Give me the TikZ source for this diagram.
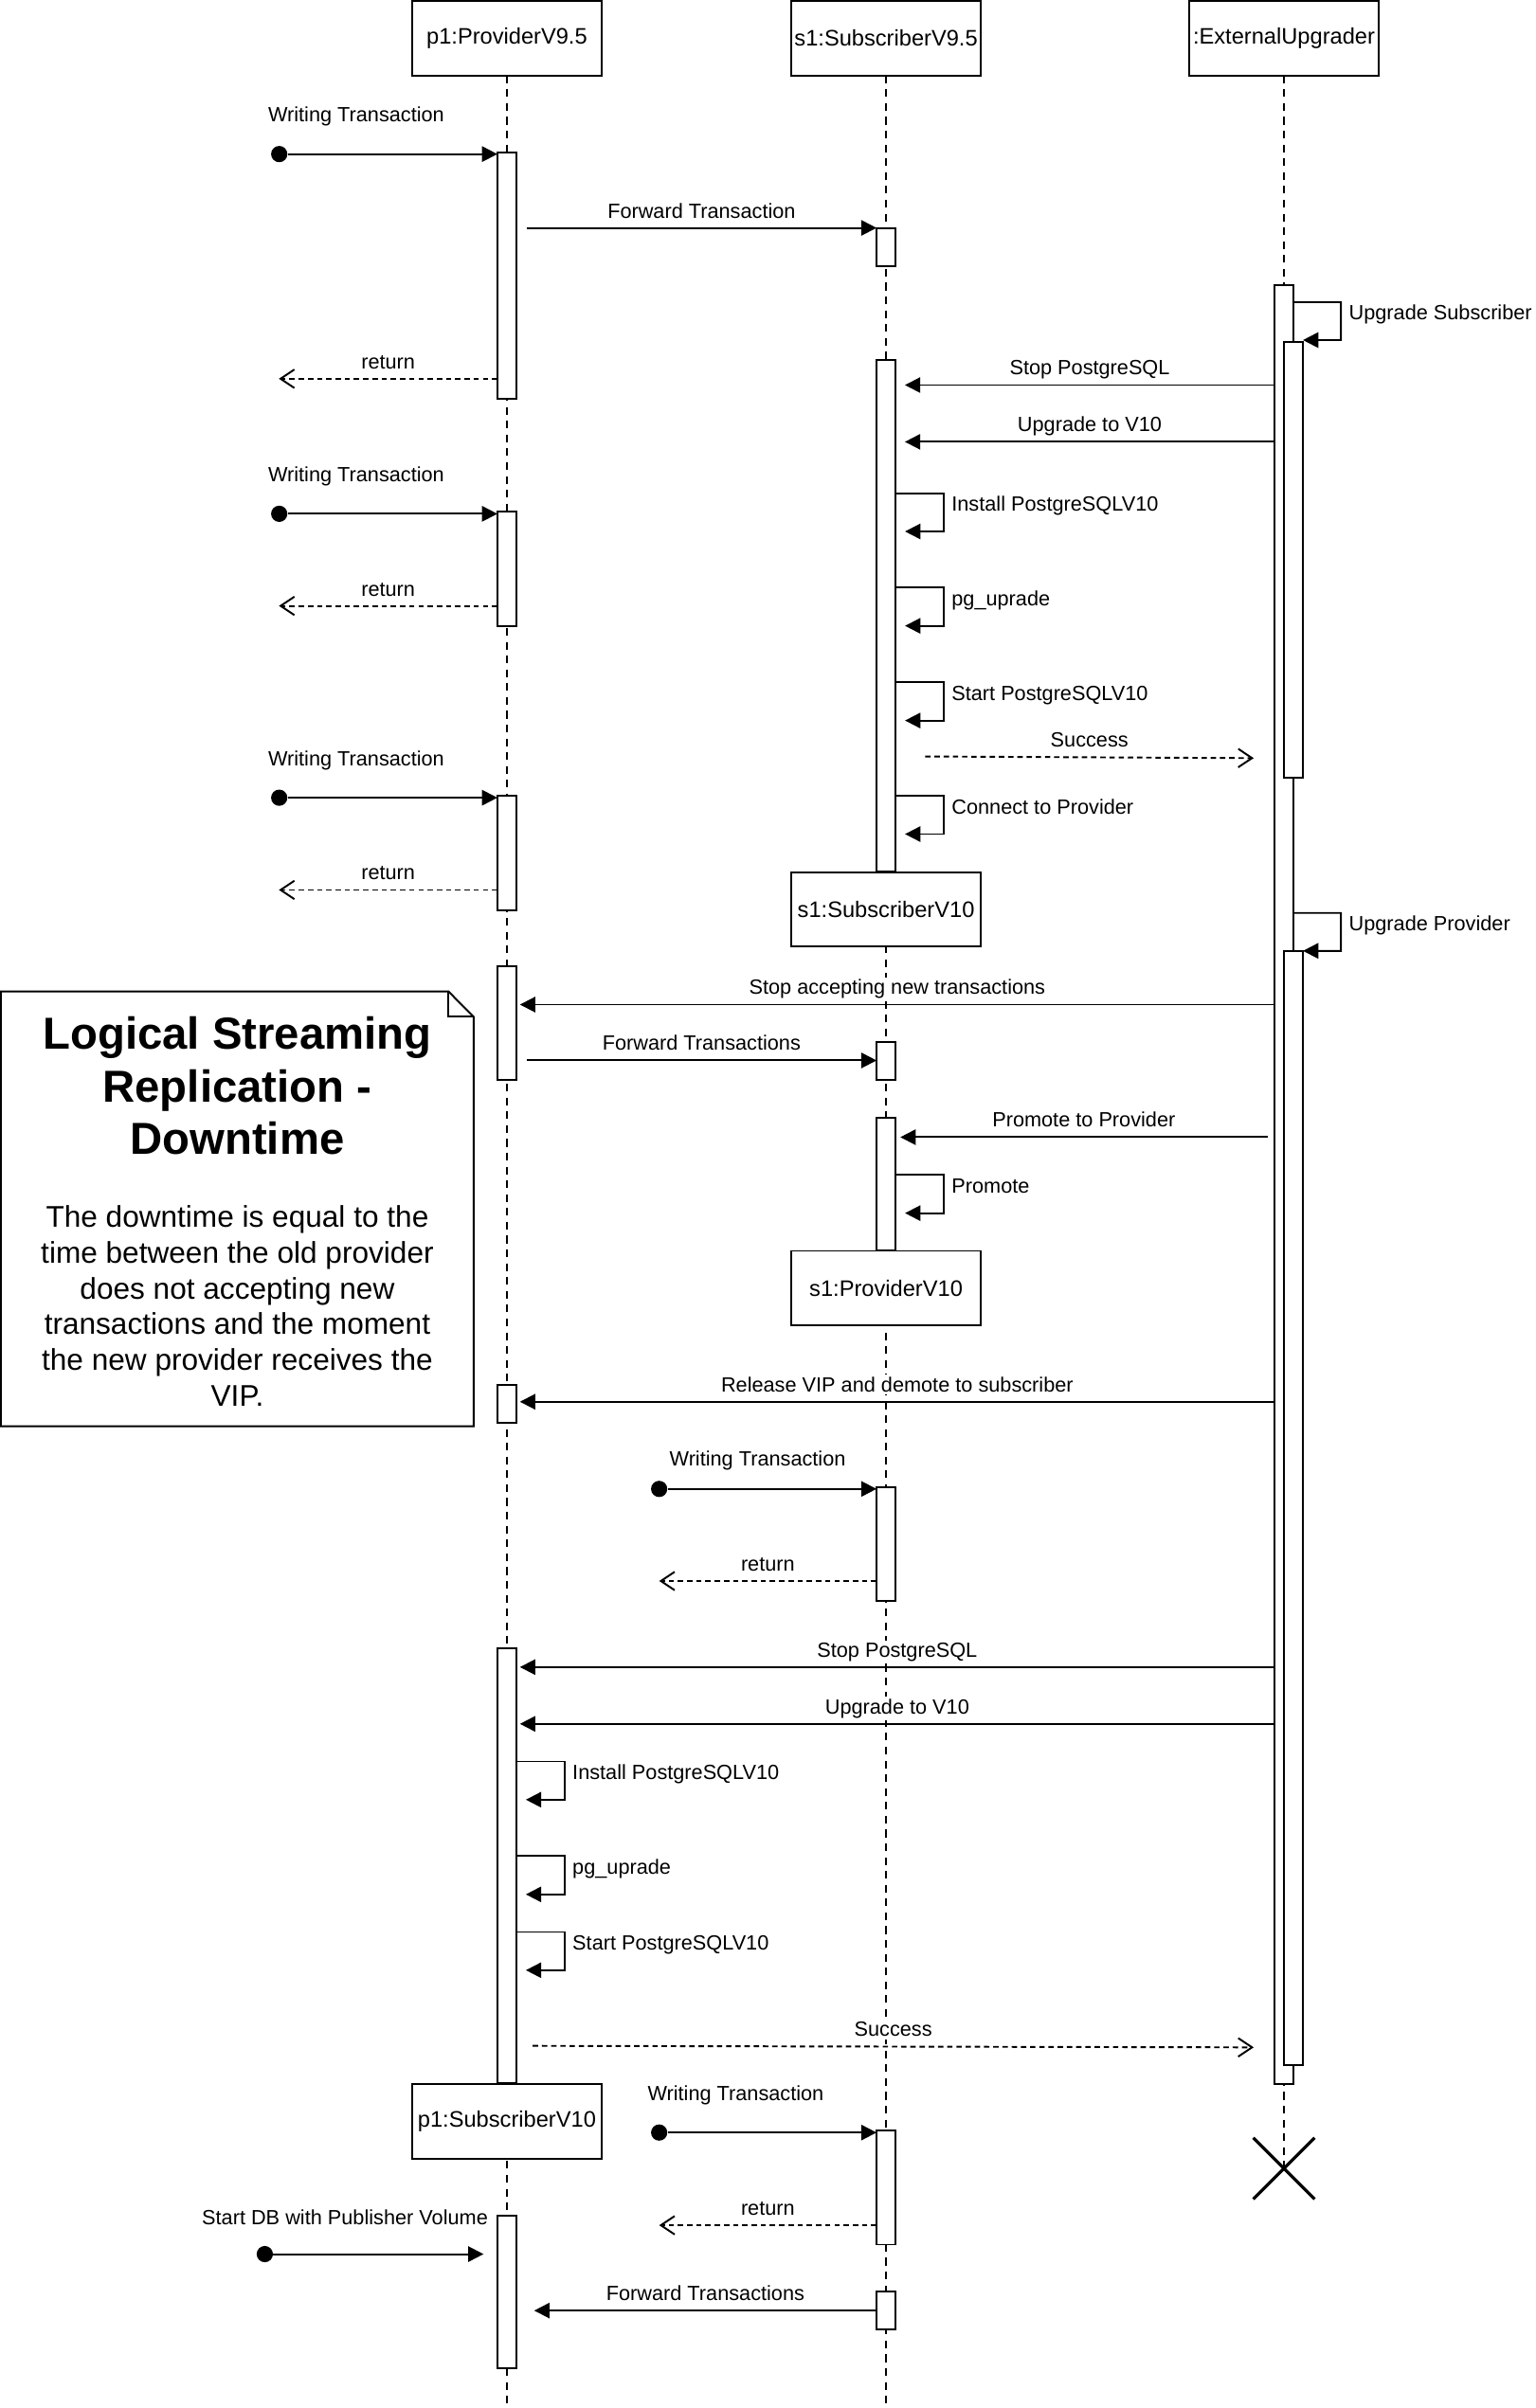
\documentclass[tikz,border=0pt]{standalone}
\usepackage{fontspec}
\setmainfont{Liberation Sans}
\usetikzlibrary{arrows.meta,shapes.misc}

\newcommand{\lblfont}{\fontsize{13.4}{16}\selectfont}
\newcommand{\headfont}{\fontsize{14.6}{17.5}\selectfont}

\tikzset{
	head/.style={draw, fill=white, line width=1.2pt, minimum width=123.5pt, minimum height=48.4pt, inner sep=1pt, outer sep=0pt, font=\headfont},
	act/.style={draw, fill=white, line width=1.2pt, minimum width=12.35pt, anchor=north, inner sep=0pt, outer sep=0pt},
	life/.style={line width=1.2pt, dash pattern=on 5pt off 4pt},
	msg/.style={line width=1.2pt, -{Triangle[length=10pt,width=10pt]}},
	ret/.style={line width=1.2pt, dash pattern=on 3.5pt off 2.5pt, -{Straight Barb[length=9pt,width=12pt]}},
	lbl/.style={anchor=base, yshift=6.5pt, fill=white, inner sep=1.5pt, font=\lblfont},
	slbl/.style={anchor=base west, xshift=4.7pt, yshift=-11.7pt, inner sep=0pt, font=\lblfont},
	wlbl/.style={anchor=base west, inner sep=0pt, font=\lblfont},
	dot/.style={circle, fill=black, minimum size=10.6pt, inner sep=0pt},
	note/.style={line width=1.2pt},
	ttl/.style={anchor=base, inner sep=0pt, font=\fontsize{29.2}{35}\selectfont\bfseries},
	body/.style={anchor=base, inner sep=0pt, font=\fontsize{19.5}{23.4}\selectfont}
}

\begin{document}
\begin{tikzpicture}[x=1pt, y=-1pt]

		\useasboundingbox (0,0) rectangle (1000,1569.1);

		% Lifeline heads
		\node[head] (p1) at (330.2,25) {p1:ProviderV9.5};
		\node[head] (s1) at (577.2,25) {s1:SubscriberV9.5};
		\node[head] (ext) at (836.4,25) {:ExternalUpgrader};

		% Lifelines
		\draw[life] (p1.south) -- (p1.south |- 0,1569.1);
		\draw[life] (s1.south) -- (s1.south |- 0,1569.1);
		\draw[life] (ext.south) -- (ext.south |- 0,1413);

		% Note
		\draw[note, fill=white] (0.6,646.1) -- (292.2,646.1) -- (308.6,662.6) -- (308.6,929.4) -- (0.6,929.4) -- cycle;
		\draw[note] (292.2,646.1) -- (292.2,662.6) -- (308.6,662.6);
		\foreach \txt [count=\i] in {Logical Streaming, Replication -, Downtime}
			\node[ttl] (ttl\i) at (154.6,{683.5+34.4*(\i-1)}) {\txt};
		\foreach \txt [count=\i] in {The downtime is equal to the, time between the old provider, does not accepting new, transactions and the moment, the new provider receives the, VIP.}
			\node[body] (txt\i) at (154.6,{799.5+23.4*(\i-1)}) {\txt};

		% Activations p1
		\node[act, minimum height=160.6pt] (p1a) at (330.2,99.1) {};
		\node[act, minimum height=74.3pt] (p1b) at (330.2,333.5) {};
		\node[act, minimum height=74.4pt] (p1c) at (330.2,518.6) {};
		\node[act, minimum height=74.2pt] (p1d) at (330.2,629.5) {};
		\node[act, minimum height=24.4pt] (p1e) at (330.2,902.6) {};
		\node[act, minimum height=283.6pt] (p1f) at (330.2,1074) {};
		\node[act, minimum height=99pt] (p1g) at (330.2,1444) {};

		% Activations s1
		\node[act, minimum height=24.9pt] (s1a) at (577.2,148.5) {};
		\node[act, minimum height=333.2pt] (s1b) at (577.2,234.8) {};
		\node[act, minimum height=24.7pt] (s1c) at (577.2,679) {};
		\node[act, minimum height=86.1pt] (s1d) at (577.2,728.4) {};
		\node[act, minimum height=74.4pt] (s1e) at (577.2,969) {};
		\node[act, minimum height=74.1pt] (s1f) at (577.2,1388.5) {};
		\node[act, minimum height=25pt] (s1g) at (577.2,1493) {};

		% Activations upgrader
		\node[act, minimum height=1172.4pt] (ext0) at (836.4,185.6) {};
		\node[act, minimum height=283.9pt] (ext1) at (842.6,222.6) {};
		\node[act, minimum height=725.9pt] (ext2) at (842.6,619.6) {};

		% New roles
		\node[head] (s1n) at (577.2,592.7) {s1:SubscriberV10};
		\node[head] (s1p) at (577.2,839.3) {s1:ProviderV10};
		\node[head] (p1n) at (330.2,1382.3) {p1:SubscriberV10};

		% Writing transactions on p1
		\node[dot] (w1) at (181.9,100.4) {};
		\node[wlbl] (lw1) at (174.5,79.4) {Writing Transaction};
		\draw[msg] (w1) -- (p1a.west |- w1);
		\node[dot] (w2) at (181.9,334.8) {};
		\node[wlbl] (lw2) at (174.5,314) {Writing Transaction};
		\draw[msg] (w2) -- (p1b.west |- w2);
		\node[dot] (w3) at (181.9,519.8) {};
		\node[wlbl] (lw3) at (174.5,499) {Writing Transaction};
		\draw[msg] (w3) -- (p1c.west |- w3);

		% Returns on p1
		\coordinate (rt1) at (181.7,246.8);
		\draw[ret] (p1a.west |- rt1) -- node[lbl] {return} (rt1);
		\coordinate (rt2) at (181.7,394.8);
		\draw[ret] (p1b.west |- rt2) -- node[lbl] {return} (rt2);
		\coordinate (rt3) at (181.7,579.9);
		\draw[ret] (p1c.west |- rt3) -- node[lbl] {return} (rt3);

		% Forward
		\coordinate (fw1) at (343,148.5);
		\draw[msg] (fw1) -- node[lbl] {Forward Transaction} (s1a.west |- fw1);

		% Upgrade subscriber
		\draw[msg] (ext0.east |- 0,196.9) -- ++(30.9,0) node[slbl] {Upgrade Subscriber} -- ++(0,24.7) -- (ext1.east |- 0,221.6);
		\coordinate (sp1) at (589.5,250.9);
		\draw[msg] (ext0.west |- sp1) -- node[lbl] {Stop PostgreSQL} (sp1);
		\coordinate (uv1) at (589.5,287.9);
		\draw[msg] (ext0.west |- uv1) -- node[lbl] {Upgrade to V10} (uv1);
		\foreach \y/\txt in {321.4/Install PostgreSQLV10, 382.9/pg\_uprade, 444.6/Start PostgreSQLV10, 518.6/Connect to Provider}
			\draw[msg] (s1b.east |- 0,\y) -- ++(31.3,0) node[slbl] {\txt} -- ++(0,24.9) -- ++(-25.1,0);
		\coordinate (sc1) at (602.7,492.9);
		\coordinate (sc2) at (816.7,494);
		\draw[ret] (sc1) -- node[lbl] {Success} (sc2);

		% Upgrade provider
		\draw[msg] (ext0.east |- 0,594.9) -- ++(30.9,0) node[slbl] {Upgrade Provider} -- ++(0,24.7) -- (ext2.east |- 0,619.6);
		\coordinate (sa1) at (338.7,654.6);
		\draw[msg] (ext0.west |- sa1) -- node[lbl] {Stop accepting new transactions} (sa1);
		\coordinate (fw2) at (343,691);
		\draw[msg] (fw2) -- node[lbl] {Forward Transactions} (s1c.west |- fw2);
		\coordinate (pp1) at (825.6,741);
		\coordinate (pp2) at (586.5,741);
		\draw[msg] (pp1) -- node[lbl] {Promote to Provider} (pp2);
		\draw[msg] (s1d.east |- 0,765.6) -- ++(31.3,0) node[slbl] {Promote} -- ++(0,24.9) -- ++(-25.1,0);
		\coordinate (rv1) at (338.7,913.4);
		\draw[msg] (ext0.west |- rv1) -- node[lbl] {Release VIP and demote to subscriber} (rv1);

		% Writing on new provider
		\node[dot] (w4) at (429.4,970.2) {};
		\node[wlbl] (lw4) at (436,955) {Writing Transaction};
		\draw[msg] (w4) -- (s1e.west |- w4);
		\coordinate (rt4) at (429.4,1030.2);
		\draw[ret] (s1e.west |- rt4) -- node[lbl] {return} (rt4);

		% Upgrade old provider
		\coordinate (sp2) at (338.7,1086.3);
		\draw[msg] (ext0.west |- sp2) -- node[lbl] {Stop PostgreSQL} (sp2);
		\coordinate (uv2) at (338.7,1123.3);
		\draw[msg] (ext0.west |- uv2) -- node[lbl] {Upgrade to V10} (uv2);
		\foreach \y/\txt in {1147.8/Install PostgreSQLV10, 1209.5/pg\_uprade, 1258.9/Start PostgreSQLV10}
			\draw[msg] (p1f.east |- 0,\y) -- ++(31.3,0) node[slbl] {\txt} -- ++(0,24.9) -- ++(-25.1,0);
		\coordinate (sc3) at (347,1333.1);
		\coordinate (sc4) at (816.7,1334.1);
		\draw[ret] (sc3) -- node[lbl] {Success} (sc4);

		% After upgrade
		\node[dot] (w5) at (429.4,1389.6) {};
		\node[wlbl] (lw5) at (421.7,1369) {Writing Transaction};
		\draw[msg] (w5) -- (s1f.west |- w5);
		\coordinate (rt5) at (429.4,1450);
		\draw[ret] (s1f.west |- rt5) -- node[lbl] {return} (rt5);
		\node[dot] (w6) at (172.5,1468.8) {};
		\node[anchor=base east, inner sep=0pt, font=\lblfont] (ldb) at (318,1449.6) {Start DB with Publisher Volume};
		\coordinate (db1) at (315,1468.8);
		\draw[msg] (w6) -- (db1);
		\coordinate (fw3) at (348,1505.6);
		\draw[msg] (s1g.west |- fw3) -- node[lbl] {Forward Transactions} (fw3);

		% Upgrader ends
		\node[draw, cross out, line width=2pt, minimum size=38pt, inner sep=0pt] (xend) at (836.4,1413) {};

	\end{tikzpicture}
\end{document}
